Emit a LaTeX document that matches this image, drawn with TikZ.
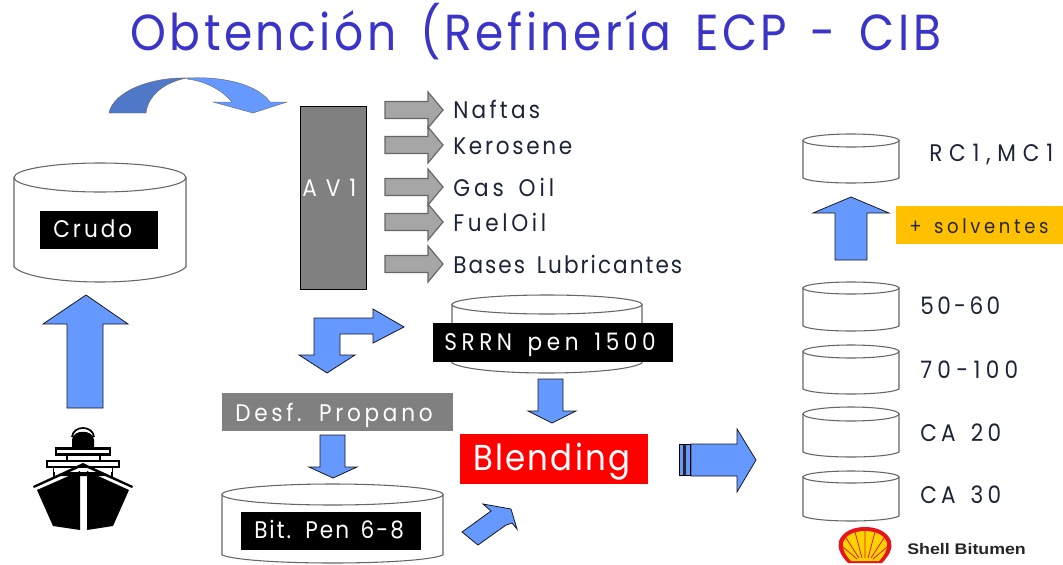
\documentclass[tikz,border=0pt]{standalone}
\usepackage{fontspec}
\setmainfont{Poppins}[FakeStretch=0.9,WordSpace=1.5]
\newfontfamily\shellfont{Liberation Sans}[FakeStretch=1.16]
\newlength{\fitw}
% size in pt, target width in px, number of characters, text
\newcommand{\fit}[4]{{\fontsize{#1}{#1}\selectfont
  \settowidth{\fitw}{#4}%
  \pgfmathsetmacro{\fitls}{max(0,((#2*0.75pt-\fitw)/(#3-1))/(#1pt)*100)}%
  \addfontfeature{LetterSpace=\fitls}#4}}
\definecolor{blockblue}{HTML}{6699FF}
\definecolor{blockdark}{HTML}{4F78C8}
\definecolor{blockgray}{HTML}{A6A6A6}
\definecolor{inkdark}{HTML}{1C2438}
\definecolor{titleblue}{HTML}{3A35C8}
\definecolor{shellred}{HTML}{E8141C}
\definecolor{shellyellow}{HTML}{FFD200}
\tikzset{
  bluearrow/.style={fill=blockblue,draw=black!90,line width=.6pt,line join=miter},
  grayarrow/.style={fill=blockgray,draw=black!60,line width=.9pt},
  tank/.style={fill=white,draw=black!60,line width=.8pt},
  lbl/.style={anchor=base west,inner sep=0pt,text=inkdark},
  whitelbl/.style={anchor=base west,inner sep=0pt,text=white},
  panel/.style={inner sep=0pt,draw=none},
}
% name, xl, xr, ytop, y below top ellipse, y side end, y bottom
\newcommand{\tankshape}[7]{%
  \pgfmathsetmacro{\cx}{(#2+#3)/2}%
  \pgfmathsetmacro{\rx}{(#3-#2)/2}%
  \pgfmathsetmacro{\cy}{(#4+#5)/2}%
  \pgfmathsetmacro{\ry}{(#5-#4)/2}%
  \pgfmathsetmacro{\cb}{#6+(#7-#6)*4/3}%
  \draw[tank] (#2,\cy) -- (#2,#6) .. controls (#2+.12*#3-.12*#2,\cb) and (#3-.12*#3+.12*#2,\cb) .. (#3,#6) -- (#3,\cy) -- cycle;
  \draw[tank] (\cx,\cy) ellipse [x radius=\rx,y radius=\ry];
  \coordinate (#1) at (\cx,\cy);}
% gray arrow, by centre y
\newcommand{\grayarr}[1]{%
  \draw[grayarrow] (385,#1-8.5) -- (428,#1-8.5) -- (428,#1-18) -- (443,#1) -- (428,#1+18) -- (428,#1+8.5) -- (385,#1+8.5) -- cycle;}
\begin{document}
\begin{tikzpicture}[x=.75pt,y=-.75pt]
\useasboundingbox (0,0) rectangle (1063,564);
\fill[white] (0,0) rectangle (1063,564);

% title
\node[anchor=base west,inner sep=0pt,text=titleblue] (title) at (130,50) {\fit{38}{818}{30}{Obtención (Refinería ECP - CIB}};

% crude tank
\tankshape{crudotank}{14}{186}{163}{192}{267}{282}
\node[panel,fill=black,minimum width=88.5pt,minimum height=28.5pt,anchor=north west] (crudobox) at (40,211) {};
\node[whitelbl] (crudo) at (53,237) {\fit{18}{79}{5}{Crudo}};

% ship -> tank arrow
\draw[bluearrow] (67,408) -- (67,324) -- (43,324) -- (86,295) -- (128,324) -- (103,324) -- (103,408) -- cycle;

% ship
\begin{scope}
\draw[black,line width=1.3pt] (72,437) .. controls (73,425) and (93,425) .. (94,437);
\fill[black] (72,448) -- (72,440) .. controls (72,429) and (94,429) .. (94,440) -- (94,448) -- cycle;
\draw[black,line width=1.6pt,fill=white] (56,448.5) rectangle (110,454.5);
\draw[black,line width=1.6pt] (67,455) -- (67,461) (100,455) -- (100,461);
\draw[black,line width=1.6pt,fill=white] (47,461) rectangle (119,467);
\draw[black,line width=1.6pt] (54,467) -- (54,477) (112,467) -- (112,477);
\fill[black] (60,474) -- (83,465) -- (106,474) -- (106,476) -- (60,476) -- cycle;
\fill[white] (54,468) rectangle (112,472);
\fill[black] (33,486) -- (83,463) -- (133,486) -- (132,488) -- (83,466) -- (34,488) -- cycle;
\fill[black] (37,490) -- (80,471) -- (80,530) -- (53,526) -- cycle;
\fill[black] (87,471) -- (129,490) -- (113,526) -- (87,530) -- cycle;
\end{scope}

% curved arrow to AV1
\fill[blockblue,draw=black!60,line width=.3pt] (187,78) .. controls (225,76) and (258,85) .. (270,102) -- (287,102) -- (253,113) -- (213,102) -- (232,102) .. controls (222,90) and (205,81) .. (187,79) -- cycle;
\fill[blockdark,draw=black!60,line width=.3pt] (109,113) .. controls (113,92) and (150,77) .. (187,78) .. controls (165,82) and (148,95) .. (146,113) -- cycle;

% AV1
\node[panel,draw=black,line width=1pt,fill=black!50,minimum width=49.5pt,minimum height=137pt,anchor=north west] (av1box) at (300,106) {};
\node[whitelbl] (av1) at (302,196) {\fit{18}{54}{3}{AV1}};

% product arrows and labels
\grayarr{110}
\grayarr{145}
\grayarr{187}
\grayarr{222}
\grayarr{264}
\node[lbl] (naftas) at (453,118) {\fit{18}{87}{6}{Naftas}};
\node[lbl] (kerosene) at (453,154) {\fit{18}{119}{8}{Kerosene}};
\node[lbl] (gasoil) at (453,196) {\fit{18}{103}{7}{Gas Oil}};
\node[lbl] (fueloil) at (453,231) {\fit{18}{93}{7}{FuelOil}};
\node[lbl] (bases) at (453,273) {\fit{18}{230}{17}{Bases Lubricantes}};

% elbow arrow
\draw[bluearrow] (314,318) -- (373,318) -- (373,309) -- (404,327) -- (373,343) -- (373,334) -- (340,334) -- (340,355) -- (355,355) -- (327,373) -- (299,355) -- (314,355) -- cycle;

% SRRN
\tankshape{srrntank}{452}{642}{295}{314}{363}{373}
\node[panel,fill=black,minimum width=180pt,minimum height=29pt,anchor=north west] (srrnbox) at (433,323) {};
\node[whitelbl] (srrn) at (444,350) {\fit{18}{216}{13}{SRRN pen 1500}};
\draw[bluearrow] (538,379) -- (563,379) -- (563,411) -- (576,411) -- (552,423) -- (528,411) -- (538,411) -- cycle;

% Desf Propano
\node[panel,fill=black!50,minimum width=173.25pt,minimum height=28.5pt,anchor=north west] (desfbox) at (222,393) {};
\node[whitelbl] (desf) at (235,421) {\fit{18}{198}{13}{Desf. Propano}};
\draw[bluearrow] (320,435) -- (345,435) -- (345,467) -- (357,467) -- (333,478) -- (309,467) -- (320,467) -- cycle;

% Bit tank
\tankshape{bittank}{222}{443}{484}{505}{555}{563}
\node[panel,fill=black,minimum width=135pt,minimum height=28.5pt,anchor=north west] (bitbox) at (241,512) {};
\node[whitelbl] (bit) at (254,538) {\fit{18}{151}{12}{Bit. Pen 6-8}};
\draw[bluearrow] (462,532) -- (478,545) -- (506,525) -- (512,523) -- (517,529) -- (511,509) -- (483,504) -- (491,511) -- cycle;

% Blending
\node[panel,fill=red,minimum width=141pt,minimum height=37.5pt,anchor=north west] (blendbox) at (460,434) {};
\node[whitelbl] (blend) at (473,470) {\fit{27}{157}{8}{Blending}};

% big arrow
\draw[bluearrow] (691,444) -- (737,444) -- (737,429) -- (756,460) -- (737,492) -- (737,476) -- (691,476) -- cycle;
\draw[fill=blockblue,draw=black,line width=.5pt] (679,444.5) rectangle (690,475.5);
\fill[black!85] (683,445) rectangle (685.5,475);

% right tanks
\tankshape{rctank}{803}{899}{134}{147}{178}{183}
\tankshape{tanka}{803}{899}{282}{294}{326}{331}
\tankshape{tankb}{803}{899}{345}{358}{389}{394}
\tankshape{tankc}{803}{899}{407}{421}{452}{457}
\tankshape{tankd}{803}{899}{471}{483}{516}{521}
\node[lbl] (rc) at (929,161) {\fit{18}{124}{7}{RC1,MC1}};
\node[lbl] (t50) at (920,314) {\fit{18}{80}{5}{50-60}};
\node[lbl] (t70) at (920,378) {\fit{18}{98}{6}{70-100}};
\node[lbl] (t20) at (920,441) {\fit{18}{83}{5}{CA 20}};
\node[lbl] (t30) at (920,503) {\fit{18}{83}{5}{CA 30}};

% solventes
\draw[bluearrow] (835,260) -- (835,213) -- (813,213) -- (851,197) -- (889,213) -- (867,213) -- (867,260) -- cycle;
\node[panel,fill={rgb,255:red,255;green,192;blue,0},minimum width=125.25pt,minimum height=28.5pt,anchor=north west] (solvbox) at (896,206) {};
\node[lbl,text=black!85] (solv) at (909,233) {\fit{15}{141}{11}{+ solventes}};

% shell logo
\fill[shellred] (848,563) .. controls (841,556) and (837,548) .. (839,541) .. controls (843,531) and (854,527) .. (865,527) .. controls (876,527) and (887,531) .. (891,541) .. controls (893,548) and (889,556) .. (882,563) -- cycle;
\fill[shellyellow] (851,561) .. controls (846,556) and (842,549) .. (843,543) .. controls (846,534) and (856,531) .. (865,531) .. controls (874,531) and (884,534) .. (887,543) .. controls (888,549) and (884,556) .. (879,561) -- cycle;
\draw[shellred,line width=.6pt] (865,558) -- (865,531) (862,558) -- (855,532) (868,558) -- (875,532) (859,558) -- (846,538) (871,558) -- (884,538) (857,559) -- (843,547) (873,559) -- (887,547);
\node[anchor=base west,inner sep=0pt,text=black!85] (shelltxt) at (907,554) {\shellfont\bfseries\fontsize{11.5}{11.5}\selectfont Shell Bitumen};
\end{tikzpicture}
\end{document}
